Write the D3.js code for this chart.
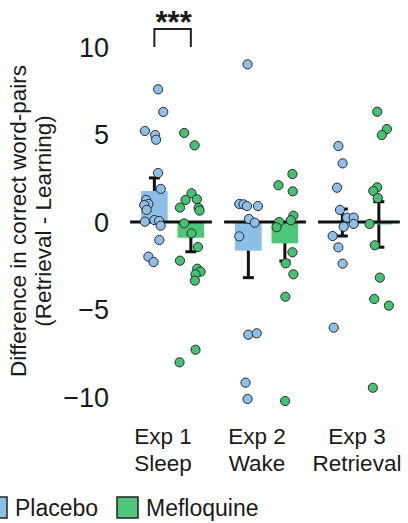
<!DOCTYPE html>
<html>
<head>
<meta charset="utf-8">
<script src="https://cdn.jsdelivr.net/npm/d3@7"></script>
<style>
  body { margin: 0; background: #fff; }
  text { font-family: "Liberation Sans", Arial, Helvetica, sans-serif; fill: #1a1a1a; }
</style>
</head>
<body>
<div id="wrapper"></div>
<script>
// experiments and conditions
var exps = ["Exp 1", "Exp 2", "Exp 3"];
var expSub = ["Sleep", "Wake", "Retrieval"];
var conds = ["Placebo", "Mefloquine"];
var yTicks = [-10, -5, 0, 5, 10];

// group means and standard errors (placebo, mefloquine)
var placeboMean = [1.77, -1.64, -0.03];
var placeboSE = [0.75, 1.54, 0.77];
var mefloMean = [-0.9, -1.22, -0.14];
var mefloSE = [0.8, 1.01, 1.3];

// individual subjects (values + jitter as fraction of half bar width)
var placeboPts = [
  [7.58, 6.29, 5.2, 4.97, 4.7, 2.8, 1.89, 1.26, 1.03, 0.97, 0.69, 0.02, 0.11, 0.06, -0.21, -1.03, -1.98, -2.29],
  [9.01, 1.03, 1.01, 0.91, 0.91, 0.17, -0.04, -0.82, -6.44, -6.36, -9.18, -10.11],
  [4.34, 3.35, 1.96, 0.69, 0.25, 0.25, -0.27, -0.11, -0.8, -1.45, -2.38, -6.04]
];
var placeboJit = [
  [0.28, 0.67, -0.71, 0.06, 0.13, 0.28, 0.48, -0.62, -0.45, -0.76, -0.58, -0.71, 0.0, 0.35, 0.47, 0.37, -0.45, -0.06],
  [-0.06, -0.68, -0.36, -0.11, 0.72, 0.04, 0.48, -0.68, 0.0, 0.63, -0.21, -0.06],
  [-0.3, 0.02, -0.4, -0.18, 0.35, 0.85, 0.1, 0.85, -0.73, -0.3, 0.02, -0.65]
];
var mefloPts = [
  [5.09, 4.38, 1.64, 1.26, 1.3, 0.82, 0.8, 0.65, -0.08, -0.65, -1.43, -2.21, -2.67, -2.84, -2.99, -3.35, -7.3, -8.02],
  [2.74, 2.1, 1.75, 0.36, 0.0, 0.1, -0.3, -1.73, -2.36, -2.99, -4.27, -10.23],
  [6.3, 5.31, 4.97, 1.98, 1.77, 1.37, -0.11, -1.33, -3.18, -4.4, -4.78, -9.47]
];
var mefloJit = [
  [-0.5, 0.28, 0.05, -0.4, 0.45, -0.82, 0.58, 0.65, -0.5, 0.05, 0.53, -0.82, 0.48, 0.73, 0.35, 0.3, 0.35, -0.85],
  [0.57, -0.48, 0.59, 0.64, -0.43, 0.45, -0.62, 0.57, 0.07, 0.64, 0.04, 0.02],
  [-0.12, 0.6, 0.22, -0.12, -0.42, -0.08, -0.7, -0.3, 0.07, -0.35, 0.75, -0.45]
];

var width = 408, height = 523;
var colors = { Placebo: "#8cbfe6", Mefloquine: "#4fc77a" };
var ptColors = { Placebo: "#8dbfe8", Mefloquine: "#45c271" };

var svg = d3.select("#wrapper").append("svg")
  .attr("width", width)
  .attr("height", height);

var x0 = d3.scaleBand().domain(exps).range([124, 406]).paddingInner(0.13).paddingOuter(0.065);
var x1 = d3.scaleBand().domain(conds).range([6, 79]).paddingInner(0.27).paddingOuter(0.135);
var y = d3.scaleLinear().domain([-10, 10]).range([397, 47]);

var groups = exps.map(function(e, i) {
  return [
    { exp: e, cond: "Placebo", mean: placeboMean[i], se: placeboSE[i], pts: placeboPts[i], jit: placeboJit[i] },
    { exp: e, cond: "Mefloquine", mean: mefloMean[i], se: mefloSE[i], pts: mefloPts[i], jit: mefloJit[i] }
  ];
});
var flat = groups.flat();
function cx(d) { return x0(d.exp) + x1(d.cond) + x1.bandwidth() / 2; }

// y tick labels (no axis line)
svg.append("g").selectAll("text")
  .data(yTicks).enter().append("text")
  .attr("x", 109)
  .attr("y", function(d) { return y(d); })
  .attr("dy", "0.36em")
  .attr("text-anchor", "end")
  .style("font-size", "27px")
  .text(function(d) { return d < 0 ? "\u2212" + Math.abs(d) : d; });

// y title
var yt = svg.append("text")
  .attr("transform", "translate(18," + (y(0) - 1) + ") rotate(-90)")
  .attr("text-anchor", "middle")
  .style("font-size", "22.5px");
yt.append("tspan").attr("x", 0).attr("dy", "0.35em").text("Difference in correct word-pairs");
yt.append("tspan").attr("x", 0).attr("dy", "1.12em").text("(Retrieval - Learning)");

// error bars (drawn under the bars)
var eb = svg.append("g").attr("stroke", "#111").attr("stroke-width", 3);
flat.forEach(function(d) {
  var x = cx(d);
  eb.append("line").attr("x1", x).attr("x2", x)
    .attr("y1", y(d.mean - d.se)).attr("y2", y(d.mean + d.se));
  [d.mean - d.se, d.mean + d.se].forEach(function(v) {
    eb.append("line").attr("x1", x - 5.5).attr("x2", x + 5.5)
      .attr("y1", y(v)).attr("y2", y(v));
  });
});

// bars
svg.append("g").selectAll("rect")
  .data(flat).enter().append("rect")
  .attr("x", function(d) { return x0(d.exp) + x1(d.cond); })
  .attr("width", x1.bandwidth())
  .attr("y", function(d) { return y(Math.max(0, d.mean)); })
  .attr("height", function(d) { return Math.abs(y(d.mean) - y(0)); })
  .attr("fill", function(d) { return colors[d.cond]; });

// zero line per experiment
svg.append("g").selectAll("line")
  .data(exps).enter().append("line")
  .attr("x1", function(d) { return x0(d); })
  .attr("x2", function(d) { return x0(d) + x0.bandwidth(); })
  .attr("y1", y(0)).attr("y2", y(0))
  .attr("stroke", "#111").attr("stroke-width", 3);

// individual points
var pts = [];
flat.forEach(function(d) {
  d.pts.forEach(function(v, k) {
    pts.push({ cond: d.cond, x: cx(d) + d.jit[k] * x1.bandwidth() / 2, v: v });
  });
});
svg.append("g").selectAll("circle")
  .data(pts).enter().append("circle")
  .attr("cx", function(d) { return d.x; })
  .attr("cy", function(d) { return y(d.v); })
  .attr("r", 4.6)
  .attr("fill", function(d) { return ptColors[d.cond]; })
  .attr("stroke", "#2a2a2a")
  .attr("stroke-width", 1);

// significance bracket, exp 1
var bx1 = cx(flat[0]), bx2 = cx(flat[1]);
svg.append("path")
  .attr("d", "M" + bx1 + "," + 47 + "V" + 29 + "H" + bx2 + "V" + 47)
  .attr("fill", "none").attr("stroke", "#222").attr("stroke-width", 2);
svg.append("text")
  .attr("x", (bx1 + bx2) / 2 + 1).attr("y", 33)
  .attr("text-anchor", "middle")
  .style("font-size", "31px").style("font-weight", "bold")
  .text("***");

// category labels
var cl = svg.append("g").selectAll("text")
  .data(exps).enter().append("text")
  .attr("text-anchor", "middle")
  .style("font-size", "22.5px")
  .attr("transform", function(d, i) { return "translate(" + (x0(d) + x0.bandwidth() / 2 - (i < 2 ? 8 : 2)) + ",0)"; });
cl.append("tspan").attr("x", 0).attr("y", 444).text(function(d) { return d; });
cl.append("tspan").attr("x", 0).attr("y", 471).text(function(d, i) { return expSub[i]; });

// legend
var legX = [-14, 117];
var leg = svg.append("g").selectAll("g")
  .data(conds).enter().append("g")
  .attr("transform", function(d, i) { return "translate(" + legX[i] + ",497)"; });
leg.append("rect")
  .attr("width", 21).attr("height", 21)
  .attr("fill", function(d) { return colors[d]; })
  .attr("stroke", "#222").attr("stroke-width", 1.5);
leg.append("text")
  .attr("x", 29).attr("y", 18.5)
  .style("font-size", "23px")
  .text(function(d) { return d; });
</script>
</body>
</html>
